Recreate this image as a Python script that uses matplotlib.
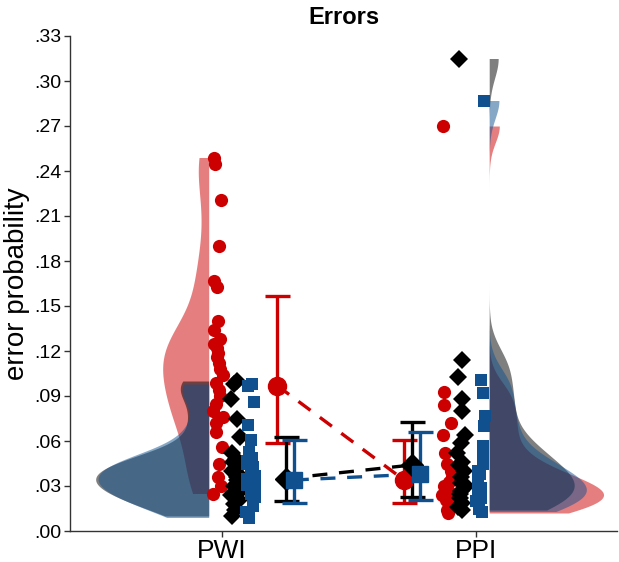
import numpy as np
import matplotlib
matplotlib.use("Agg")
import matplotlib.pyplot as plt

plt.rcParams['font.family'] = ['Liberation Sans', 'DejaVu Sans']

# ---------------- data ----------------
conditions = ["PWI", "PPI"]

pwi_red = [0.249, 0.245, 0.221, 0.190, 0.167, 0.163, 0.140, 0.134, 0.128, 0.125,
           0.122, 0.119, 0.116, 0.112, 0.108, 0.104, 0.099, 0.094, 0.090, 0.085,
           0.080, 0.076, 0.072, 0.066, 0.056, 0.045, 0.036, 0.030, 0.025]
pwi_black = [0.100, 0.098, 0.088, 0.075, 0.063, 0.052, 0.048, 0.046, 0.044, 0.042,
             0.040, 0.038, 0.036, 0.034, 0.032, 0.030, 0.028, 0.026, 0.024, 0.021,
             0.018, 0.014, 0.010]
pwi_blue = [0.098, 0.097, 0.086, 0.071, 0.061, 0.053, 0.049, 0.047, 0.045, 0.043,
            0.041, 0.039, 0.037, 0.035, 0.033, 0.031, 0.029, 0.027, 0.025, 0.023,
            0.020, 0.017, 0.013, 0.009]

ppi_red = [0.270, 0.093, 0.084, 0.072, 0.064, 0.052, 0.045, 0.040, 0.036, 0.033,
           0.030, 0.028, 0.026, 0.024, 0.022, 0.021, 0.020, 0.018, 0.016, 0.014, 0.012]
ppi_black = [0.315, 0.114, 0.103, 0.088, 0.080, 0.064, 0.059, 0.052, 0.046, 0.044,
             0.040, 0.036, 0.032, 0.030, 0.027, 0.025, 0.022, 0.019, 0.016, 0.014]
ppi_blue = [0.287, 0.101, 0.092, 0.077, 0.070, 0.057, 0.050, 0.045, 0.040, 0.038,
            0.035, 0.032, 0.029, 0.026, 0.024, 0.022, 0.020, 0.017, 0.015, 0.013]

# summary estimates (mean, lower, upper) per series: [PWI, PPI]
red_mean = [0.097, 0.034]
red_lo = [0.059, 0.019]
red_hi = [0.157, 0.061]
black_mean = [0.035, 0.044]
black_lo = [0.020, 0.023]
black_hi = [0.063, 0.073]
blue_mean = [0.034, 0.038]
blue_lo = [0.019, 0.021]
blue_hi = [0.061, 0.066]

yticks = [0.00, 0.03, 0.06, 0.09, 0.12, 0.15, 0.18, 0.21, 0.24, 0.27, 0.30, 0.33]

# ---------------- style ----------------
RED = '#cc0000'
BLACK = '#000000'
BLUE = '#10508f'

fig = plt.figure(figsize=(6.19, 5.62), dpi=100)
ax = fig.add_axes([70/619, 1-531/562, (617-70)/619, (531-36)/562])


def kde(data, grid, bw):
    d = np.asarray(data)[:, None]
    z = (grid[None, :] - d) / bw
    return np.exp(-0.5 * z**2).sum(axis=0) / (len(data) * bw * np.sqrt(2*np.pi))


violins = [
    # (data, position, side, color, bw)
    (pwi_red, 0, -1, RED, 0.019),
    (pwi_black, 0, -1, BLACK, 0.0095),
    (pwi_blue, 0, -1, BLUE, 0.0095),
    (ppi_red, 1, 1, RED, 0.011),
    (ppi_black, 1, 1, BLACK, 0.013),
    (ppi_blue, 1, 1, BLUE, 0.012),
]
edge_off = 0.052
max_width = {0: 0.445, 1: 0.45}
dens = []
for data, pos, side, col, bw in violins:
    g = np.linspace(min(data), max(data), 400)
    dens.append((g, kde(data, g, bw)))
for p in (0, 1):
    peak = max(d.max() for (v, (g, d)) in zip(violins, dens) if v[1] == p)
    for (data, pos, side, col, bw), (g, d) in zip(violins, dens):
        if pos != p:
            continue
        edge = pos + side * edge_off
        ax.fill_betweenx(g, edge, edge + side * d / peak * max_width[p],
                         color=col, alpha=0.5, lw=0, zorder=1)

# ---------------- points ----------------
rng = np.random.default_rng(3)
pts = [
    (pwi_red, 0 - 0.016, 'o', RED, 9.5),
    (pwi_black, 0 + 0.052, 'D', BLACK, 9.0),
    (pwi_blue, 0 + 0.112, 's', BLUE, 8.0),
    (ppi_red, 1 - 0.114, 'o', RED, 9.5),
    (ppi_black, 1 - 0.055, 'D', BLACK, 9.0),
    (ppi_blue, 1 + 0.016, 's', BLUE, 8.0),
]
for data, x0, m, col, ms in pts:
    jit = rng.uniform(-0.02, 0.02, len(data))
    ax.plot(x0 + jit, data, ls='none', marker=m, color=col, ms=ms, mew=0, zorder=3)

# ---------------- means + error bars ----------------
summ = [
    (red_mean, red_lo, red_hi, [0.217, 1 - 0.283], 'o', RED, 13),
    (black_mean, black_lo, black_hi, [0.252, 1 - 0.252], 'D', BLACK, 11),
    (blue_mean, blue_lo, blue_hi, [0.283, 1 - 0.220], 's', BLUE, 11),
]
for mean, lo, hi, xs, m, col, ms in summ:
    mean = np.array(mean); lo = np.array(lo); hi = np.array(hi)
    ax.plot(xs, mean, ls=(0, (4.5, 3.5)), color=col, lw=2.4, zorder=4)
    ax.errorbar(xs, mean, yerr=[mean - lo, hi - mean], fmt=m, color=col, ms=ms,
                mec=col, mfc=col, elinewidth=2.4, capsize=9, capthick=2.4, zorder=5)

# ---------------- axes ----------------
ax.set_xlim(-0.598, 1.555)
ax.set_ylim(0, 0.33)
ax.set_xticks([0, 1])
ax.set_xticklabels(conditions, fontsize=19)
ax.set_yticks(yticks)
ax.set_yticklabels([f"{v:.2f}"[1:] for v in yticks], fontsize=14)
ax.set_ylabel("error probability", fontsize=20, labelpad=3)
ax.set_title("Errors", fontsize=17, fontweight='bold', pad=9)
for s in ['top', 'right']:
    ax.spines[s].set_visible(False)
for s in ['left', 'bottom']:
    ax.spines[s].set_color('#333333')
    ax.spines[s].set_linewidth(1.0)
ax.tick_params(axis='both', length=4, width=1, color='#333333', pad=2)

fig.savefig("out.png", dpi=100)
